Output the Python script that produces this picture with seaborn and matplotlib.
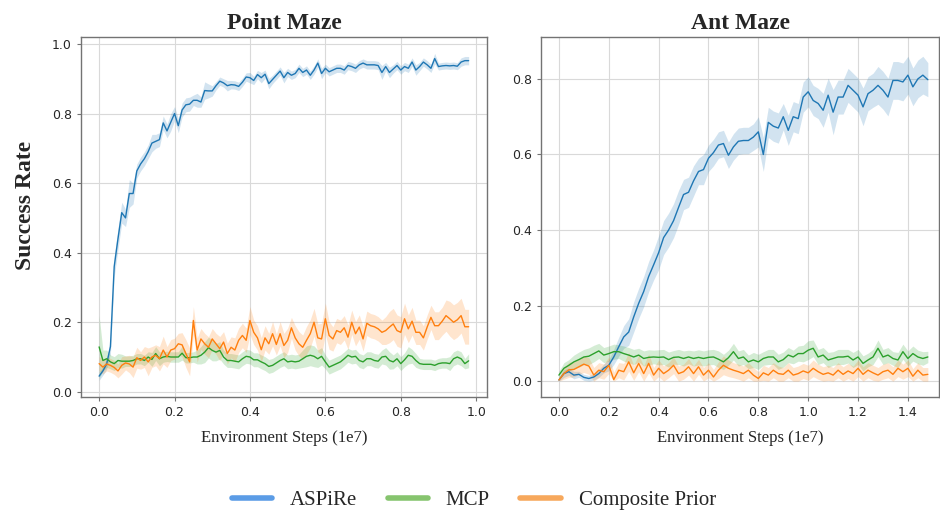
import numpy as np
import pandas as pd
import matplotlib
matplotlib.use('Agg')
import matplotlib.pyplot as plt
from matplotlib.lines import Line2D
import seaborn as sns

# Point Maze, steps 0.00 .. 0.98 (1e7), every 0.01
point_steps = [i / 100 for i in range(99)]
point_aspire = [0.045, 0.06, 0.08, 0.13, 0.36, 0.44, 0.515, 0.50, 0.57, 0.57,
                0.635, 0.655, 0.67, 0.69, 0.715, 0.72, 0.725, 0.773, 0.75, 0.775,
                0.80, 0.765, 0.81, 0.825, 0.827, 0.838, 0.838, 0.833, 0.866, 0.865,
                0.865, 0.88, 0.893, 0.888, 0.88, 0.883, 0.882, 0.878, 0.89, 0.905,
                0.903, 0.895, 0.912, 0.903, 0.913, 0.886, 0.898, 0.91, 0.922, 0.903,
                0.918, 0.91, 0.915, 0.93, 0.918, 0.925, 0.91, 0.925, 0.945, 0.915,
                0.93, 0.92, 0.925, 0.93, 0.93, 0.925, 0.938, 0.935, 0.93, 0.94,
                0.945, 0.94, 0.94, 0.94, 0.938, 0.918, 0.935, 0.918, 0.928, 0.938,
                0.925, 0.935, 0.93, 0.948, 0.925, 0.935, 0.948, 0.94, 0.93, 0.958,
                0.935, 0.937, 0.938, 0.937, 0.938, 0.936, 0.948, 0.952, 0.952]
point_aspire_err = [0.012, 0.012, 0.015, 0.02, 0.03, 0.03, 0.03, 0.025, 0.04, 0.03,
                    0.02, 0.02, 0.02, 0.02, 0.025, 0.02, 0.02, 0.02, 0.02, 0.025,
                    0.02, 0.02, 0.02, 0.02, 0.02, 0.015, 0.02, 0.015, 0.025, 0.02,
                    0.015, 0.012, 0.012, 0.012, 0.015, 0.012, 0.012, 0.012, 0.012, 0.012,
                    0.015, 0.012, 0.012, 0.015, 0.012, 0.015, 0.012, 0.012, 0.012, 0.015,
                    0.012, 0.012, 0.012, 0.012, 0.012, 0.012, 0.012, 0.012, 0.012, 0.015,
                    0.012, 0.012, 0.012, 0.012, 0.012, 0.012, 0.012, 0.012, 0.012, 0.012,
                    0.012, 0.012, 0.012, 0.012, 0.012, 0.02, 0.012, 0.015, 0.012, 0.012,
                    0.012, 0.012, 0.012, 0.012, 0.015, 0.012, 0.012, 0.012, 0.012, 0.015,
                    0.01, 0.01, 0.01, 0.01, 0.01, 0.01, 0.012, 0.012, 0.012]
point_mcp = [0.129, 0.09, 0.095, 0.086, 0.081, 0.09, 0.088, 0.088, 0.088, 0.09,
             0.095, 0.095, 0.09, 0.10, 0.093, 0.11, 0.095, 0.10, 0.102, 0.10,
             0.10, 0.10, 0.111, 0.098, 0.098, 0.10, 0.10, 0.105, 0.114, 0.127,
             0.119, 0.114, 0.119, 0.10, 0.09, 0.09, 0.088, 0.086, 0.095, 0.102,
             0.10, 0.092, 0.092, 0.086, 0.081, 0.073, 0.076, 0.083, 0.09, 0.095,
             0.086, 0.088, 0.086, 0.088, 0.095, 0.102, 0.105, 0.102, 0.095, 0.102,
             0.086, 0.071, 0.076, 0.081, 0.086, 0.095, 0.105, 0.10, 0.102, 0.09,
             0.086, 0.095, 0.095, 0.09, 0.088, 0.10, 0.102, 0.09, 0.086, 0.095,
             0.081, 0.092, 0.105, 0.102, 0.09, 0.081, 0.079, 0.079, 0.079, 0.076,
             0.081, 0.083, 0.083, 0.081, 0.095, 0.10, 0.095, 0.081, 0.089]
point_mcp_err = [0.09, 0.03, 0.025, 0.02, 0.02, 0.02, 0.02, 0.015, 0.015, 0.015,
                 0.015, 0.015, 0.015, 0.015, 0.02, 0.02, 0.02, 0.015, 0.015, 0.015,
                 0.015, 0.015, 0.02, 0.015, 0.015, 0.015, 0.02, 0.025, 0.03, 0.03,
                 0.03, 0.025, 0.025, 0.02, 0.02, 0.02, 0.02, 0.02, 0.02, 0.02,
                 0.02, 0.02, 0.02, 0.02, 0.02, 0.02, 0.02, 0.02, 0.02, 0.02,
                 0.02, 0.02, 0.02, 0.02, 0.025, 0.03, 0.03, 0.03, 0.025, 0.025,
                 0.02, 0.02, 0.02, 0.02, 0.02, 0.02, 0.02, 0.02, 0.02, 0.02,
                 0.02, 0.02, 0.02, 0.02, 0.02, 0.02, 0.025, 0.025, 0.02, 0.02,
                 0.02, 0.02, 0.025, 0.02, 0.02, 0.015, 0.015, 0.015, 0.015, 0.015,
                 0.015, 0.015, 0.015, 0.02, 0.02, 0.02, 0.02, 0.015, 0.02]
point_prior = [0.081, 0.071, 0.08, 0.076, 0.07, 0.06, 0.076, 0.083, 0.08, 0.071,
               0.098, 0.09, 0.10, 0.086, 0.10, 0.105, 0.095, 0.12, 0.10, 0.12,
               0.124, 0.138, 0.135, 0.11, 0.086, 0.205, 0.12, 0.152, 0.138, 0.128,
               0.152, 0.138, 0.124, 0.143, 0.11, 0.128, 0.12, 0.148, 0.162, 0.148,
               0.205, 0.171, 0.155, 0.121, 0.155, 0.138, 0.167, 0.136, 0.167, 0.133,
               0.148, 0.184, 0.155, 0.138, 0.128, 0.148, 0.167, 0.20, 0.155, 0.152,
               0.21, 0.162, 0.152, 0.176, 0.171, 0.184, 0.157, 0.20, 0.167, 0.186,
               0.152, 0.197, 0.19, 0.187, 0.181, 0.171, 0.176, 0.186, 0.195, 0.176,
               0.171, 0.21, 0.181, 0.203, 0.171, 0.171, 0.155, 0.186, 0.214, 0.19,
               0.19, 0.203, 0.219, 0.21, 0.20, 0.207, 0.219, 0.187, 0.187]
point_prior_err = [0.02, 0.02, 0.02, 0.02, 0.02, 0.02, 0.025, 0.02, 0.025, 0.03,
                   0.03, 0.025, 0.03, 0.04, 0.03, 0.03, 0.035, 0.04, 0.03, 0.03,
                   0.03, 0.03, 0.035, 0.04, 0.04, 0.04, 0.035, 0.03, 0.03, 0.03,
                   0.03, 0.03, 0.035, 0.03, 0.03, 0.03, 0.035, 0.035, 0.035, 0.035,
                   0.04, 0.035, 0.035, 0.035, 0.035, 0.03, 0.035, 0.03, 0.035, 0.035,
                   0.035, 0.03, 0.035, 0.035, 0.035, 0.04, 0.04, 0.04, 0.04, 0.045,
                   0.045, 0.04, 0.035, 0.035, 0.035, 0.035, 0.035, 0.035, 0.035, 0.035,
                   0.035, 0.035, 0.035, 0.035, 0.035, 0.035, 0.04, 0.045, 0.045, 0.045,
                   0.045, 0.045, 0.04, 0.04, 0.035, 0.035, 0.035, 0.035, 0.035, 0.04,
                   0.04, 0.04, 0.045, 0.05, 0.05, 0.05, 0.05, 0.05, 0.05]

# Ant Maze, steps 0.00 .. 1.48 (1e7), every 0.02
ant_steps = [i / 50 for i in range(75)]
ant_aspire = [0.003, 0.02, 0.025, 0.016, 0.018, 0.01, 0.007, 0.011, 0.02, 0.034,
              0.042, 0.064, 0.091, 0.117, 0.13, 0.17, 0.206, 0.237, 0.277, 0.308,
              0.34, 0.38, 0.40, 0.425, 0.46, 0.494, 0.50, 0.53, 0.555, 0.56,
              0.59, 0.605, 0.625, 0.629, 0.598, 0.62, 0.635, 0.637, 0.637, 0.646,
              0.66, 0.60, 0.685, 0.675, 0.67, 0.70, 0.664, 0.70, 0.695, 0.752,
              0.766, 0.743, 0.735, 0.717, 0.757, 0.712, 0.752, 0.752, 0.783, 0.77,
              0.757, 0.726, 0.761, 0.77, 0.783, 0.77, 0.752, 0.796, 0.796, 0.792,
              0.81, 0.779, 0.80, 0.81, 0.798]
ant_aspire_err = [0.005, 0.01, 0.01, 0.01, 0.008, 0.008, 0.008, 0.008, 0.01, 0.012,
                  0.015, 0.02, 0.025, 0.03, 0.035, 0.04, 0.04, 0.04, 0.04, 0.04,
                  0.045, 0.045, 0.045, 0.045, 0.045, 0.04, 0.04, 0.04, 0.035, 0.04,
                  0.035, 0.035, 0.035, 0.035, 0.035, 0.035, 0.035, 0.035, 0.035, 0.035,
                  0.04, 0.045, 0.04, 0.04, 0.04, 0.035, 0.04, 0.04, 0.04, 0.04,
                  0.04, 0.04, 0.04, 0.045, 0.045, 0.06, 0.045, 0.045, 0.045, 0.045,
                  0.045, 0.05, 0.045, 0.045, 0.05, 0.05, 0.05, 0.05, 0.05, 0.05,
                  0.05, 0.05, 0.05, 0.05, 0.045]
ant_mcp = [0.016, 0.034, 0.042, 0.051, 0.057, 0.064, 0.066, 0.073, 0.08, 0.069,
           0.073, 0.078, 0.078, 0.073, 0.069, 0.064, 0.069, 0.06, 0.063, 0.064,
           0.063, 0.064, 0.057, 0.063, 0.064, 0.06, 0.064, 0.06, 0.063, 0.06,
           0.063, 0.064, 0.058, 0.051, 0.062, 0.078, 0.06, 0.064, 0.051, 0.056,
           0.051, 0.06, 0.064, 0.064, 0.051, 0.057, 0.069, 0.064, 0.073, 0.073,
           0.082, 0.087, 0.064, 0.069, 0.056, 0.06, 0.064, 0.064, 0.066, 0.056,
           0.064, 0.047, 0.056, 0.064, 0.087, 0.064, 0.069, 0.06, 0.056, 0.078,
           0.06, 0.073, 0.064, 0.06, 0.064]
ant_mcp_err = [0.01, 0.015, 0.015, 0.018, 0.02, 0.02, 0.022, 0.022, 0.02, 0.02,
               0.02, 0.02, 0.018, 0.02, 0.02, 0.02, 0.018, 0.02, 0.02, 0.018,
               0.02, 0.02, 0.02, 0.018, 0.02, 0.02, 0.018, 0.02, 0.02, 0.02,
               0.02, 0.02, 0.022, 0.02, 0.02, 0.022, 0.02, 0.02, 0.018, 0.02,
               0.02, 0.018, 0.02, 0.02, 0.02, 0.02, 0.02, 0.018, 0.02, 0.022,
               0.025, 0.022, 0.02, 0.02, 0.02, 0.018, 0.02, 0.02, 0.018, 0.02,
               0.02, 0.02, 0.018, 0.02, 0.022, 0.02, 0.02, 0.018, 0.02, 0.02,
               0.02, 0.02, 0.018, 0.018, 0.015]
ant_prior = [0.003, 0.02, 0.03, 0.031, 0.038, 0.045, 0.04, 0.016, 0.029, 0.025,
             0.042, 0.004, 0.029, 0.025, 0.051, 0.022, 0.047, 0.02, 0.047, 0.016,
             0.034, 0.02, 0.029, 0.042, 0.02, 0.025, 0.038, 0.02, 0.038, 0.016,
             0.029, 0.011, 0.029, 0.042, 0.034, 0.029, 0.025, 0.02, 0.029, 0.016,
             0.007, 0.022, 0.016, 0.029, 0.02, 0.018, 0.029, 0.016, 0.02, 0.027,
             0.022, 0.034, 0.025, 0.018, 0.022, 0.016, 0.029, 0.018, 0.027, 0.02,
             0.034, 0.018, 0.029, 0.022, 0.016, 0.025, 0.029, 0.018, 0.034, 0.025,
             0.034, 0.013, 0.029, 0.016, 0.018]
ant_prior_err = [0.005, 0.015, 0.02, 0.02, 0.02, 0.022, 0.022, 0.02, 0.02, 0.02,
                 0.022, 0.02, 0.02, 0.022, 0.025, 0.02, 0.022, 0.02, 0.025, 0.02,
                 0.022, 0.02, 0.02, 0.022, 0.02, 0.02, 0.022, 0.02, 0.02, 0.02,
                 0.02, 0.02, 0.022, 0.025, 0.022, 0.02, 0.02, 0.02, 0.02, 0.02,
                 0.018, 0.02, 0.02, 0.02, 0.02, 0.018, 0.02, 0.02, 0.02, 0.02,
                 0.02, 0.022, 0.02, 0.02, 0.02, 0.02, 0.02, 0.02, 0.02, 0.02,
                 0.022, 0.02, 0.02, 0.02, 0.02, 0.02, 0.02, 0.02, 0.022, 0.02,
                 0.022, 0.02, 0.02, 0.02, 0.018]

methods = ['ASPiRe', 'MCP', 'Composite Prior']
line_colors = ['#1f77b4', '#2ca02c', '#ff7f0e']
legend_colors = ['#5b9ce6', '#86c46e', '#f7a85c']

sns.set_style('whitegrid', {'axes.edgecolor': '0.45', 'grid.color': '0.85',
                            'xtick.bottom': True, 'ytick.left': True})
plt.rcParams['xtick.color'] = '0.15'
plt.rcParams['ytick.color'] = '0.15'
serif = ['Liberation Serif', 'DejaVu Serif']

fig = plt.figure(figsize=(9.4, 5.16), dpi=100)
ax_point = fig.add_axes([0.0862, 0.2306, 0.432, 0.6977])
ax_ant = fig.add_axes([0.5755, 0.2306, 0.4235, 0.6977])

panels = [
    (ax_point, 'Point Maze', point_steps,
     [point_aspire, point_mcp, point_prior],
     [point_aspire_err, point_mcp_err, point_prior_err]),
    (ax_ant, 'Ant Maze', ant_steps,
     [ant_aspire, ant_mcp, ant_prior],
     [ant_aspire_err, ant_mcp_err, ant_prior_err]),
]

for ax, title, steps, means, errs in panels:
    for name, mean, err, color in zip(methods, means, errs, line_colors):
        mean = np.array(mean)
        err = np.array(err)
        ax.fill_between(steps, np.maximum(mean - err, 0), mean + err,
                        color=color, alpha=0.2, linewidth=0)
        sns.lineplot(x=steps, y=mean, ax=ax, color=color, linewidth=1.0)
    ax.set_title(title, fontsize=17, fontweight='bold', family=serif, pad=6)
    ax.set_xlabel('Environment Steps (1e7)', fontsize=12, family=serif, labelpad=8)
    ax.tick_params(labelsize=9, length=3, width=0.8, color='0.45')
    for spine in ax.spines.values():
        spine.set_linewidth(1.0)

ax_point.set_xlim(-0.048, 1.029)
ax_point.set_ylim(-0.015, 1.02)
ax_point.set_xticks([0.0, 0.2, 0.4, 0.6, 0.8, 1.0])
ax_point.set_yticks([0.0, 0.2, 0.4, 0.6, 0.8, 1.0])
ax_point.set_ylabel('Success Rate', fontsize=17, fontweight='bold', family=serif)
ax_point.yaxis.set_label_coords(-0.11, 0.533)

ax_ant.set_xlim(-0.072, 1.525)
ax_ant.set_ylim(-0.042, 0.911)
ax_ant.set_xticks([0.0, 0.2, 0.4, 0.6, 0.8, 1.0, 1.2, 1.4])
ax_ant.set_yticks([0.0, 0.2, 0.4, 0.6, 0.8])
ax_ant.set_ylabel('')

handles = [Line2D([0], [0], color=c, linewidth=4) for c in legend_colors]
fig.legend(handles, methods, loc='center', bbox_to_anchor=(0.504, 0.031), ncol=3,
           frameon=False, prop={'family': serif, 'size': 15},
           handlelength=1.95, handletextpad=0.85, columnspacing=1.45)

fig.savefig('out.png', dpi=100)
